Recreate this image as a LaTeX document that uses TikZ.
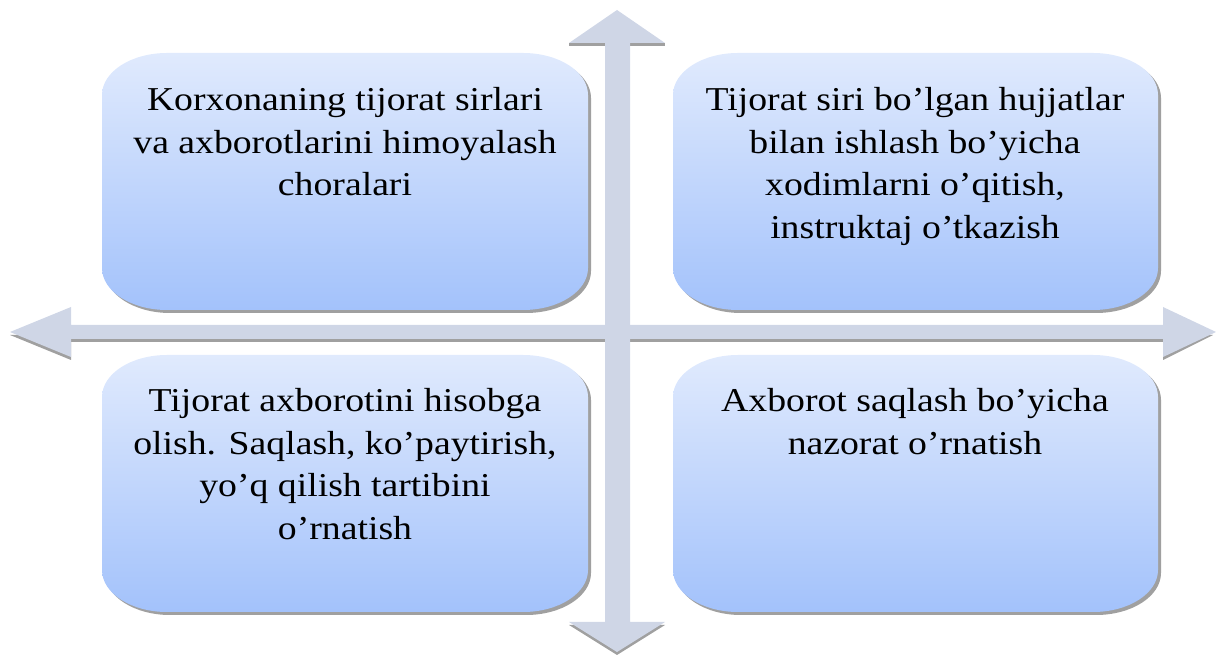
\documentclass[tikz,border=0pt]{standalone}
\usepackage{fontspec}
\setmainfont{Liberation Serif}[FakeStretch=1.13]
\usepackage{xcolor}
\usetikzlibrary{calc}

\definecolor{boxtop}{RGB}{224,234,253}
\definecolor{boxbottom}{RGB}{163,194,251}
\definecolor{axisfill}{RGB}{207,214,230}
\definecolor{shadowgray}{RGB}{160,160,160}

% rounded box with elliptic corners: x1, y1 (bottom left), x2, y2 (top right)
\newcommand{\boxpath}[4]{({#1+65},#2) -- ({#3-65},#2)
  arc[start angle=270,end angle=360,x radius=65,y radius=42] -- (#3,{#4-42})
  arc[start angle=0,end angle=90,x radius=65,y radius=42] -- ({#1+65},#4)
  arc[start angle=90,end angle=180,x radius=65,y radius=42] -- (#1,{#2+42})
  arc[start angle=180,end angle=270,x radius=65,y radius=42] -- cycle}
\newcommand{\infobox}[4]{%
  \fill[shadowgray] [shift={(3,-3)}] \boxpath{#1}{#2}{#3}{#4};
  \shade[top color=boxtop, bottom color=boxbottom] \boxpath{#1}{#2}{#3}{#4};}

\begin{document}
\begin{tikzpicture}[x=0.02cm, y=0.02cm,
    boxtext/.style={anchor=north, align=center, inner sep=0pt,
      font=\fontsize{19}{24.2}\selectfont}]
    \useasboundingbox (0,0) rectangle (1216,655);
    % Horizontal axis
    \fill[shadowgray] (10,320) -- (71,295) -- (71,313) -- (1163,313) -- (1163,295) -- (1213,320) -- cycle;
    \fill[axisfill] (10,323) -- (71,298) -- (71,316) -- (1163,316) -- (1163,298) -- (1216,323)
      -- (1163,348) -- (1163,330) -- (71,330) -- (71,348) -- cycle;
    % Vertical axis
    \fill[shadowgray] (569,609) -- (665,609) -- (665,612) -- (569,612) -- cycle;
    \fill[shadowgray] (569,30) -- (617,0) -- (665,30) -- cycle;
    \fill[axisfill] (617,645) -- (665,612) -- (630,612) -- (630,33) -- (665,33) -- (617,3)
      -- (569,33) -- (605,33) -- (605,612) -- (569,612) -- cycle;
    % Boxes
    \infobox{102}{345}{588}{602}
    \infobox{673}{345}{1158}{602}
    \infobox{102}{43}{588}{300}
    \infobox{673}{43}{1158}{300}
    % Texts
    \node[boxtext] (measures) at (345,568) {Korxonaning tijorat sirlari\\va axborotlarini himoyalash\\choralari};
    \node[boxtext] (training) at (915,568) {Tijorat siri bo’lgan hujjatlar\\bilan ishlash bo’yicha\\xodimlarni o’qitish,\\instruktaj o’tkazish};
    \node[boxtext] (accounting) at (345,267) {Tijorat axborotini hisobga\\olish. Saqlash, ko’paytirish,\\yo’q qilish tartibini\\o’rnatish};
    \node[boxtext] (control) at (915,267) {Axborot saqlash bo’yicha\\nazorat o’rnatish};
\end{tikzpicture}
\end{document}
